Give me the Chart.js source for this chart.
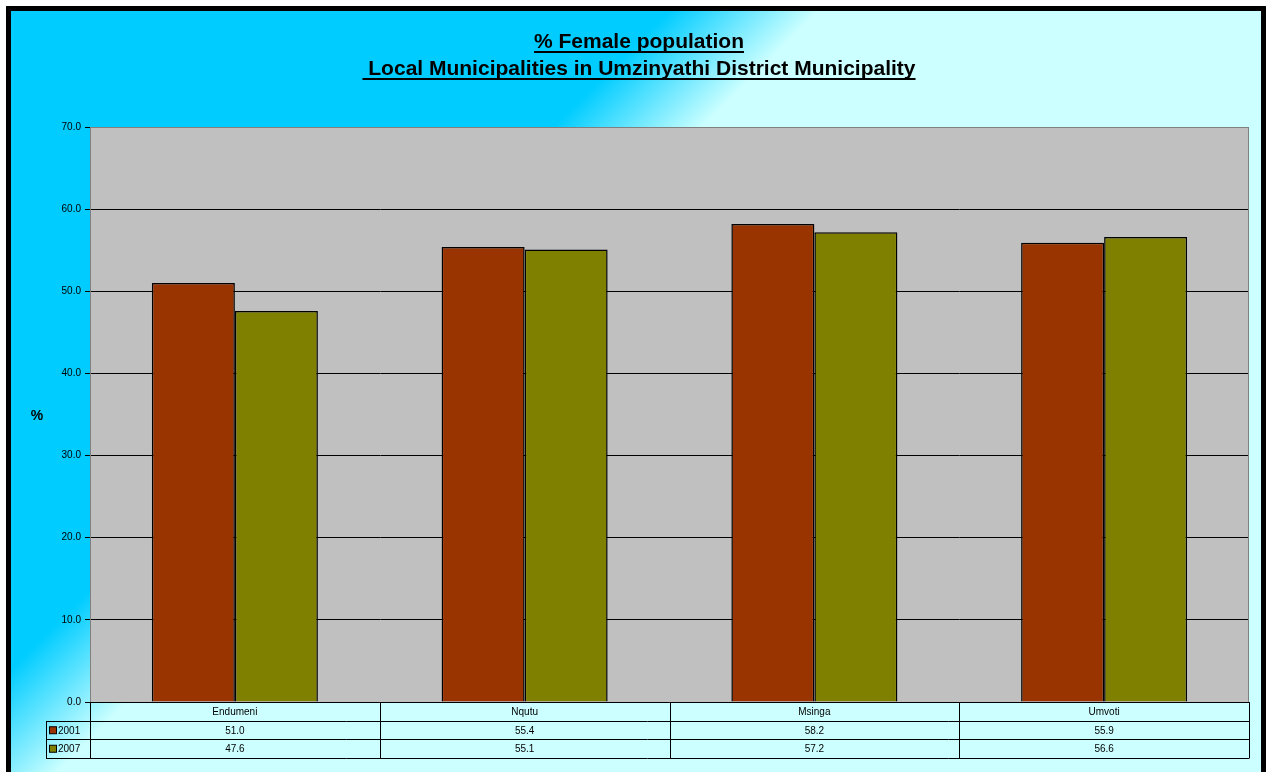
<!DOCTYPE html>
<html>
<head>
<meta charset="utf-8">
<script src="https://cdn.jsdelivr.net/npm/chart.js@4/dist/chart.umd.min.js"></script>
<style>
  html, body { margin: 0; padding: 0; background: #fff; }
  #chart { display: block; }
</style>
</head>
<body>
<canvas id="chart" width="1272" height="772"></canvas>
<script>
// data
const municipalities = ['Endumeni', 'Nqutu', 'Msinga', 'Umvoti'];
const seriesNames = ['2001', '2007'];
const female2001 = [51.0, 55.4, 58.2, 55.9];
const female2007 = [47.6, 55.1, 57.2, 56.6];
const yTicks = [0, 10, 20, 30, 40, 50, 60, 70];
const titleLines = ['% Female population', ' Local Municipalities in Umzinyathi District Municipality'];

const barColors = ['#993300', '#808000'];
const FONT = '"Liberation Sans", Arial, sans-serif';

// background gradient + frame, title, axis label and data table
const decorations = {
  id: 'decorations',
  beforeDraw(chart) {
    const ctx = chart.ctx;
    const { width, height } = chart;
    ctx.save();
    ctx.fillStyle = '#ffffff';
    ctx.fillRect(0, 0, width, height);
    const g = ctx.createLinearGradient(340, 340, 415, 415);
    g.addColorStop(0, '#00CCFF');
    g.addColorStop(1, '#CCFFFF');
    ctx.fillStyle = g;
    ctx.fillRect(8, 8, width - 16, height);
    const a = chart.chartArea;
    ctx.fillStyle = '#C0C0C0';
    ctx.fillRect(a.left, a.top, a.right - a.left, a.bottom - a.top);
    ctx.restore();
  },
  afterDraw(chart) {
    const ctx = chart.ctx;
    const a = chart.chartArea;
    const x = chart.scales.x;
    ctx.save();

    // plot border
    ctx.strokeStyle = '#808080';
    ctx.lineWidth = 1;
    ctx.strokeRect(a.left + 0.5, a.top + 0.5, a.right - a.left - 1, a.bottom - a.top);

    // title with underline
    ctx.fillStyle = '#000';
    ctx.font = 'bold 21px ' + FONT;
    ctx.textAlign = 'center';
    ctx.textBaseline = 'alphabetic';
    const baselines = [48, 75];
    titleLines.forEach((line, i) => {
      const cx = 639;
      ctx.fillText(line, cx, baselines[i]);
      const w = ctx.measureText(line).width;
      ctx.fillRect(cx - w / 2, baselines[i] + 3, w, 2);
    });

    // y axis label
    ctx.font = 'bold 14px ' + FONT;
    ctx.fillText('%', 37, 420);

    // data table
    const rowTop = a.bottom;
    const rowH = 18.5;
    const keyLeft = 46;
    const colEdges = [a.left];
    municipalities.forEach((m, i) => {
      colEdges.push(i === municipalities.length - 1 ? a.right : (x.getPixelForValue(i) + x.getPixelForValue(i + 1)) / 2);
    });
    ctx.strokeStyle = '#000';
    ctx.lineWidth = 1;
    ctx.beginPath();
    ctx.moveTo(a.left, rowTop + 0.5); ctx.lineTo(a.right, rowTop + 0.5);
    for (let r = 1; r <= 3; r++) {
      const y = Math.round(rowTop + r * rowH) + 0.5;
      ctx.moveTo(keyLeft, y); ctx.lineTo(a.right, y);
    }
    colEdges.forEach(cx => {
      const xx = Math.round(cx) + 0.5;
      ctx.moveTo(xx, rowTop); ctx.lineTo(xx, Math.round(rowTop + 3 * rowH) + 0.5);
    });
    ctx.moveTo(keyLeft + 0.5, Math.round(rowTop + rowH) + 0.5);
    ctx.lineTo(keyLeft + 0.5, Math.round(rowTop + 3 * rowH) + 0.5);
    ctx.stroke();

    ctx.font = '10px ' + FONT;
    ctx.textBaseline = 'middle';
    ctx.textAlign = 'center';
    municipalities.forEach((m, i) => {
      ctx.fillText(m, x.getPixelForValue(i), rowTop + rowH / 2 + 1);
    });
    chart.data.datasets.forEach((ds, r) => {
      const cy = rowTop + (r + 1.5) * rowH + 1;
      ctx.textAlign = 'center';
      ds.data.forEach((v, i) => {
        ctx.fillText(v.toFixed(1), x.getPixelForValue(i), cy);
      });
      // legend key
      ctx.fillStyle = ds.backgroundColor;
      ctx.fillRect(keyLeft + 3.5, cy - 4, 7, 7);
      ctx.strokeRect(keyLeft + 3.5, cy - 4, 7, 7);
      ctx.fillStyle = '#000';
      ctx.textAlign = 'left';
      ctx.fillText(ds.label, keyLeft + 12, cy);
    });

    // frame
    ctx.strokeStyle = '#000';
    ctx.lineWidth = 5;
    ctx.strokeRect(8.5, 8.5, chart.width - 17, chart.height + 20);
    ctx.restore();
  }
};

new Chart(document.getElementById('chart'), {
  type: 'bar',
  data: {
    labels: municipalities,
    datasets: [
      { label: seriesNames[0], data: female2001, backgroundColor: barColors[0], borderColor: '#000', borderWidth: 1.5 },
      { label: seriesNames[1], data: female2007, backgroundColor: barColors[1], borderColor: '#000', borderWidth: 1.5 }
    ]
  },
  options: {
    responsive: false,
    devicePixelRatio: 1,
    animation: false,
    layout: { padding: { left: 0, top: 127, right: 23, bottom: 70 } },
    plugins: {
      legend: { display: false },
      title: { display: false },
      tooltip: { enabled: false }
    },
    datasets: {
      bar: { categoryPercentage: 0.573, barPercentage: 1 }
    },
    scales: {
      x: { display: false },
      y: {
        min: 0,
        max: 70,
        afterFit(scale) { scale.width = 90; },
        afterBuildTicks(scale) { scale.ticks = yTicks.map(v => ({ value: v })); },
        border: { display: true, color: '#808080' },
        grid: {
          color: ctx => (ctx.tick && ctx.tick.value === 70) ? '#808080' : '#000',
          tickColor: '#000',
          tickLength: 5
        },
        ticks: {
          color: '#000',
          padding: 4,
          font: { family: FONT, size: 10 },
          callback: v => Number(v).toFixed(1)
        }
      }
    }
  },
  plugins: [decorations]
});
</script>
</body>
</html>
